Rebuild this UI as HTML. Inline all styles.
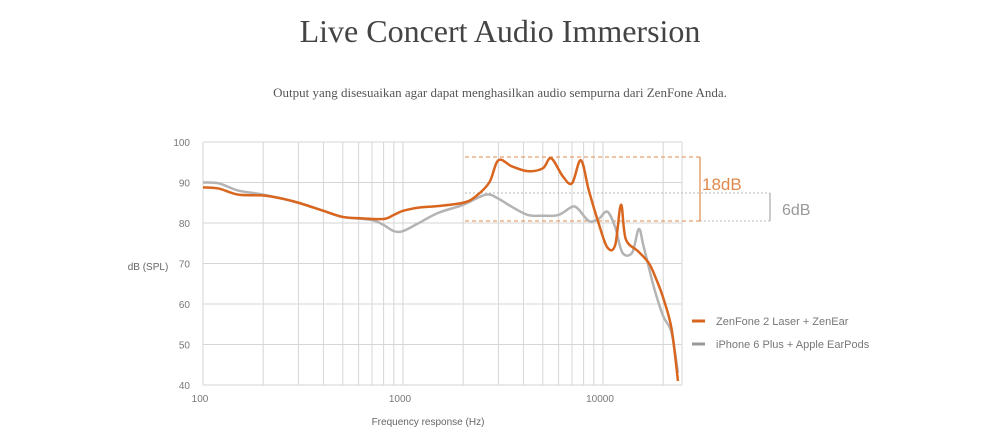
<!DOCTYPE html>
<html><head><meta charset="utf-8">
<style>
body{margin:0;background:#fff;width:1000px;height:441px;overflow:hidden}
svg{display:block}
</style></head><body>
<svg id="chart" width="1000" height="441" xmlns="http://www.w3.org/2000/svg">
<text x="500" y="42" text-anchor="middle" font-family="Liberation Serif, serif" font-size="32" fill="#444">Live Concert Audio Immersion</text>
<text x="500" y="97" text-anchor="middle" font-family="Liberation Serif, serif" font-size="13" fill="#555">Output yang disesuaikan agar dapat menghasilkan audio sempurna dari ZenFone Anda.</text>
<g id="grid"></g>
<g id="ann"></g>
<g id="series"></g>
<text x="148" y="270" text-anchor="middle" font-family="Liberation Sans, sans-serif" font-size="10" fill="#666">dB (SPL)</text>
<text x="428" y="425" text-anchor="middle" font-family="Liberation Sans, sans-serif" font-size="10" fill="#666">Frequency response (Hz)</text>
<g>
<g>
<line x1="692" y1="321" x2="705" y2="321" stroke="#d9661f" stroke-width="3"/>
<text x="716" y="325" font-family="Liberation Sans, sans-serif" font-size="11" fill="#777">ZenFone 2 Laser + ZenEar</text></g>
<g>
<line x1="692" y1="344" x2="705" y2="344" stroke="#999" stroke-width="3"/>
<text x="716" y="348" font-family="Liberation Sans, sans-serif" font-size="11" fill="#777">iPhone 6 Plus + Apple EarPods</text></g>
</g>
</svg>
<script>
const yTicks=[40,50,60,70,80,90,100];
const xTickLabels=[100,1000,10000];
const xGridFreqs=[100,200,300,400,500,600,700,800,900,1000,2000,3000,4000,5000,6000,7000,8000,9000,10000,20000];
const zenFreq=[100,120,150,200,250,300,400,500,600,800,900,1000,1200,1500,2000,2300,2700,3000,3500,4200,5000,5500,6300,7000,7750,8500,9500,10500,11500,12300,13000,15000,17000,18500,20000,22000,23700];
const zenDb=[88.8,88.5,87,86.8,86,85,83,81.5,81.2,81,82,83,83.8,84.2,85,86.5,90,95.5,94,92.8,93.5,96,91.5,89.8,95.5,88,80,74,74.5,84.5,76,73,70,66,61.5,54,41];
const iphFreq=[100,120,150,200,300,400,500,700,800,900,1000,1200,1500,2000,2600,3000,3500,4200,5000,6000,7000,7500,8500,9500,10500,11500,12500,14000,15100,16000,18000,20000,22000,23700];
const iphDb=[90,89.8,88,87,85,83,81.5,80.7,79.5,78,78,80,82.5,84.5,87,86,84,82,81.8,82,84,83.5,80.5,81,82.8,79,72.7,72.7,78.5,74,64,57,53,43];
(function(){
const ns="http://www.w3.org/2000/svg";
const X=f=>203+200*(Math.log10(f)-2);
const Y=d=>385-(d-40)*4.05;
const xR=682;
function el(t,a,p){const e=document.createElementNS(ns,t);for(const k in a)e.setAttribute(k,a[k]);p.appendChild(e);return e;}
const g=document.getElementById('grid');
yTicks.forEach(v=>{
 const l=el('line',{x1:203,x2:xR,y1:Y(v),y2:Y(v),stroke:'#d6d6d6','stroke-width':1},g);
 
 
 const t=el('text',{x:190,y:Y(v)+4,'text-anchor':'end','font-family':'Liberation Sans, sans-serif','font-size':10,fill:'#777'},g);
 t.textContent=v;
 
 
});
xGridFreqs.forEach(f=>{
 const l=el('line',{x1:X(f),x2:X(f),y1:Y(100),y2:Y(40),stroke:'#d6d6d6','stroke-width':1},g);
 
 
});
const rl=el('line',{x1:xR,x2:xR,y1:Y(100),y2:Y(40),stroke:'#d6d6d6'},g);


xTickLabels.forEach(f=>{
 const t=el('text',{x:X(f)-3,y:402,'text-anchor':'middle','font-family':'Liberation Sans, sans-serif','font-size':10,fill:'#777'},g);
 t.textContent=f;
 
 
});
const a=document.getElementById('ann');
const yTop=157,yMid=193,yBot=221;
el('line',{x1:465,x2:700,y1:yTop,y2:yTop,stroke:'#e08a4a','stroke-dasharray':'4,3'},a);
el('line',{x1:465,x2:770,y1:yMid,y2:yMid,stroke:'#bbb','stroke-dasharray':'2,2'},a);
el('line',{x1:465,x2:700,y1:yBot,y2:yBot,stroke:'#e08a4a','stroke-dasharray':'4,3'},a);
el('line',{x1:700,x2:770,y1:yBot,y2:yBot,stroke:'#bbb','stroke-dasharray':'2,2'},a);
el('line',{x1:700,x2:700,y1:yTop,y2:yBot,stroke:'#e08a4a','stroke-width':1.2},a);
el('line',{x1:770,x2:770,y1:yMid,y2:yBot,stroke:'#aaa','stroke-width':1.2},a);
const t1=el('text',{x:702,y:190,'font-family':'Liberation Sans, sans-serif','font-size':17,fill:'#e0894a'},a);t1.textContent='18dB';


const t2=el('text',{x:782,y:215,'font-family':'Liberation Sans, sans-serif','font-size':16,fill:'#999'},a);t2.textContent='6dB';


function path(fs,ds){
 const p=fs.map((f,i)=>[X(f),Y(ds[i])]);
 let d='M'+p[0][0]+','+p[0][1];
 for(let i=0;i<p.length-1;i++){
  const p0=p[Math.max(0,i-1)],p1=p[i],p2=p[i+1],p3=p[Math.min(p.length-1,i+2)];
  const c1=[p1[0]+(p2[0]-p0[0])/6,p1[1]+(p2[1]-p0[1])/6];
  const c2=[p2[0]-(p3[0]-p1[0])/6,p2[1]-(p3[1]-p1[1])/6];
  d+=` C${c1[0]},${c1[1]} ${c2[0]},${c2[1]} ${p2[0]},${p2[1]}`;
 }
 return d;
}
const s=document.getElementById('series');
const gp=el('path',{d:path(iphFreq,iphDb),fill:'none',stroke:'#b4b4b4','stroke-width':2.5},s);


const op=el('path',{d:path(zenFreq,zenDb),fill:'none',stroke:'#d9661f','stroke-width':2.5},s);


})();
</script>
</body></html>
